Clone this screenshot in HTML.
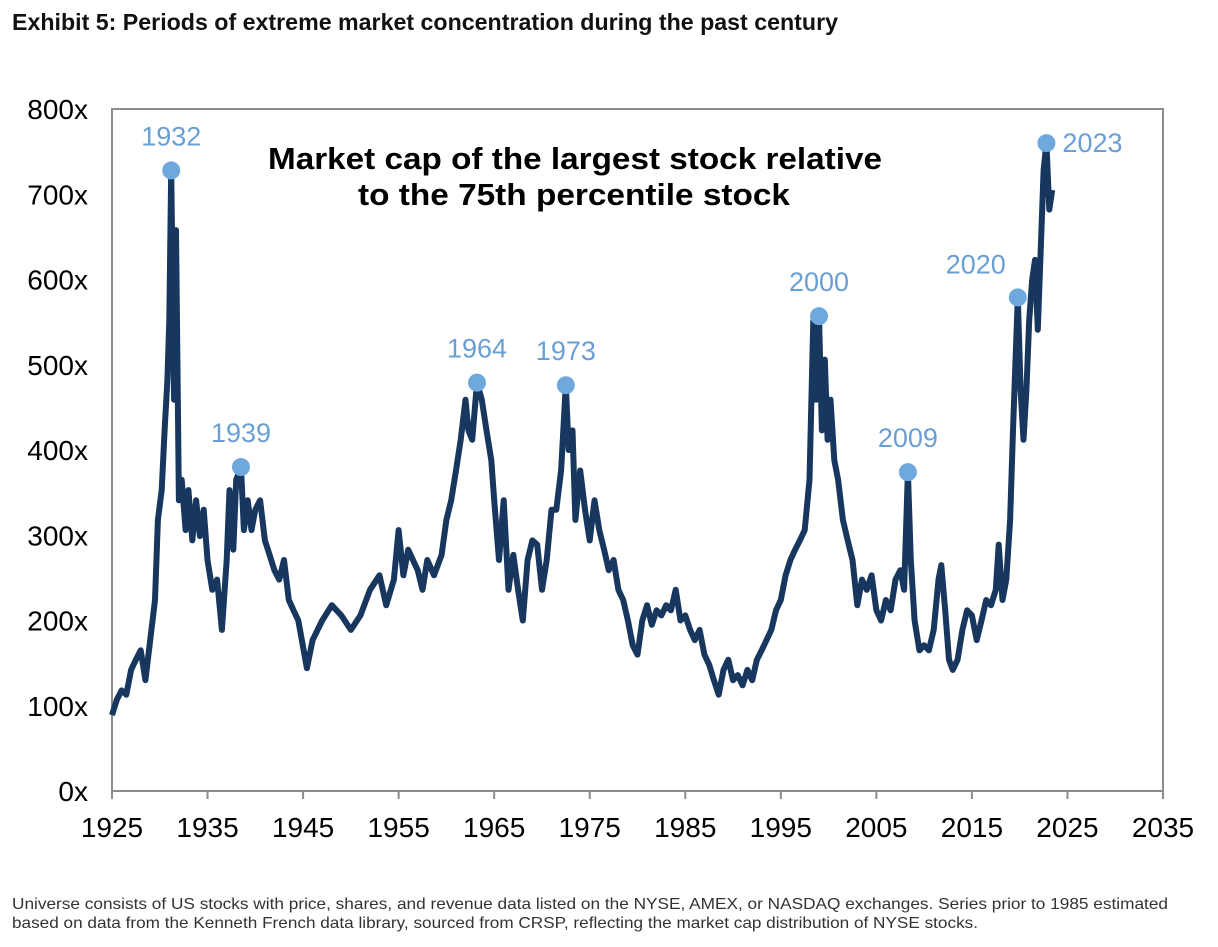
<!DOCTYPE html>
<html><head><meta charset="utf-8"><style>
html,body{margin:0;padding:0;background:#fff;}
svg{display:block;font-family:"Liberation Sans",Arial,sans-serif;}
</style></head><body>
<svg id="chart" width="1218" height="947" viewBox="0 0 1218 947" xmlns="http://www.w3.org/2000/svg">
<text x="12" y="30" font-size="23" font-weight="bold" fill="#111" textLength="826" lengthAdjust="spacingAndGlyphs">Exhibit 5: Periods of extreme market concentration during the past century</text>
<rect x="112" y="109" width="1051" height="682" fill="none" stroke="#8c8c8c" stroke-width="2"/>
<g id="yticks"></g>
<g id="xticks"></g>
<text x="268" y="169" font-size="31" font-weight="bold" fill="#000" textLength="614" lengthAdjust="spacingAndGlyphs">Market cap of the largest stock relative</text>
<text x="358" y="205" font-size="31" font-weight="bold" fill="#000" textLength="432" lengthAdjust="spacingAndGlyphs">to the 75th percentile stock</text>
<path id="series" fill="none" stroke="#17375e" stroke-width="6" stroke-linejoin="round"/>
<g id="markers"></g>
<text x="12" y="909" font-size="16" fill="#333" textLength="1156" lengthAdjust="spacingAndGlyphs">Universe consists of US stocks with price, shares, and revenue data listed on the NYSE, AMEX, or NASDAQ exchanges. Series prior to 1985 estimated</text>
<text x="12" y="928" font-size="16" fill="#333" textLength="966" lengthAdjust="spacingAndGlyphs">based on data from the Kenneth French data library, sourced from CRSP, reflecting the market cap distribution of NYSE stocks.</text>
</svg>
<script>
const years=[1925,1925.5,1926,1926.5,1927,1927.5,1928,1928.5,1929,1929.5,1929.8,1930.2,1930.5,1930.8,1931,1931.2,1931.5,1931.7,1932,1932.3,1932.7,1933,1933.4,1933.8,1934.2,1934.6,1935,1935.5,1936,1936.5,1937,1937.3,1937.7,1938,1938.5,1938.8,1939.2,1939.6,1940,1940.5,1941,1941.5,1942,1942.5,1943,1943.5,1944,1944.5,1945.4,1946,1947,1948,1949,1950,1951,1952,1953,1953.7,1954.5,1955,1955.5,1956,1957,1957.5,1958,1958.7,1959.5,1960,1960.5,1961,1961.5,1962,1962.3,1962.7,1963.2,1963.7,1964.2,1964.7,1965,1965.5,1966,1966.5,1967,1967.5,1968,1968.5,1969,1969.5,1970,1970.5,1971,1971.5,1972,1972.5,1972.8,1973.2,1973.5,1974,1974.5,1975,1975.5,1976,1976.5,1977,1977.5,1978,1978.5,1979,1979.5,1980,1980.5,1981,1981.5,1982,1982.5,1983,1983.5,1984,1984.5,1985,1985.5,1986,1986.5,1987,1987.5,1988,1988.5,1989,1989.5,1990,1990.5,1991,1991.5,1992,1992.5,1993,1993.5,1994,1994.5,1995,1995.5,1996,1996.5,1997,1997.5,1998,1998.4,1998.7,1999,1999.3,1999.6,1999.9,2000.2,2000.6,2001,2001.5,2002,2002.5,2003,2003.5,2004,2004.5,2005,2005.5,2006,2006.5,2007,2007.5,2007.9,2008.3,2008.6,2009,2009.5,2010,2010.5,2011,2011.5,2011.8,2012.2,2012.6,2013,2013.5,2014,2014.5,2015,2015.5,2016,2016.5,2017,2017.5,2017.8,2018.2,2018.6,2019,2019.3,2019.8,2020.1,2020.4,2020.7,2021,2021.3,2021.6,2021.9,2022.2,2022.5,2022.8,2023.1,2023.4];
const values=[89,107,118,113,142,154,165,130,177,224,318,353,423,482,552,728,459,658,341,365,306,353,294,341,299,330,271,236,248,189,271,353,283,365,380,306,341,306,330,341,294,277,259,248,271,224,212,200,144,177,200,218,206,189,206,236,253,218,248,306,253,283,259,236,271,253,277,318,341,376,412,459,423,412,479,459,423,388,341,271,341,236,277,236,200,271,294,289,236,271,330,330,376,476,400,423,318,376,330,294,341,306,283,259,271,236,224,200,171,160,200,218,195,212,206,218,212,236,200,206,189,177,189,160,148,130,113,142,154,130,136,124,142,130,154,165,177,189,212,224,253,271,283,294,306,365,552,459,557,423,506,412,459,388,365,318,294,271,218,248,236,253,212,200,224,212,248,259,236,374,271,200,165,171,165,189,248,265,212,154,142,154,189,212,206,177,200,224,218,236,289,224,248,318,423,579,470,412,470,552,599,623,541,634,728,760,682,705];
const peakYears=[1931.2,1938.5,1963.2,1972.5,1999,2008.3,2019.8,2022.8];
const peakValues=[728,380,479,476,557,374,579,760];
const peakLabels=['1932','1939','1964','1973','2000','2009','2020','2023'];
const xTicks=[1925,1935,1945,1955,1965,1975,1985,1995,2005,2015,2025,2035];
const yTicks=[0,100,200,300,400,500,600,700,800];

const NS='http://www.w3.org/2000/svg';
const X0=112,X1=1163,Y0=791,Y1=109;
function xs(y){return X0+(y-1925)/(2035-1925)*(X1-X0);}
function ys(v){return Y0-(v/800)*(Y0-Y1);}
function mk(tag,attrs,parent){const e=document.createElementNS(NS,tag);for(const k in attrs)e.setAttribute(k,attrs[k]);parent.appendChild(e);return e;}

const yg=document.getElementById('yticks');
yTicks.forEach(v=>{
  const t=mk('text',{x:88,y:ys(v)+10,'font-size':28,'text-anchor':'end',fill:'#000'},yg);
  
  
  t.textContent=v+'x';
});
const xg=document.getElementById('xticks');
xTicks.forEach(yr=>{
  const l=mk('line',{x1:xs(yr),x2:xs(yr),y1:Y0,y2:Y0+8,stroke:'#8c8c8c','stroke-width':2},xg);
  
  
  const t=mk('text',{x:xs(yr),y:Y0+46,'font-size':28,'text-anchor':'middle',fill:'#000'},xg);
  
  
  t.textContent=yr;
});
let d='';
years.forEach((yr,i)=>{d+=(i?'L':'M')+xs(yr).toFixed(1)+' '+ys(values[i]).toFixed(1);});
document.getElementById('series').setAttribute('d',d);

const mg=document.getElementById('markers');
peakYears.forEach((yr,i)=>{
  const cx=xs(yr),cy=ys(peakValues[i]);
  const c=mk('circle',{cx:cx,cy:cy,r:9,fill:'#6fa8dc'},mg);
  
  
  let lx=cx,ly=cy-25,anchor='middle';
  if(peakLabels[i]==='2020'){lx=cx-12;ly=cy-24;anchor='end';}
  if(peakLabels[i]==='2023'){lx=cx+16;ly=cy+9;anchor='start';}
  const t=mk('text',{x:lx,y:ly,'font-size':27,'text-anchor':anchor,fill:'#6a9fd4'},mg);
  
  
  t.textContent=peakLabels[i];
});
</script>
</body></html>
